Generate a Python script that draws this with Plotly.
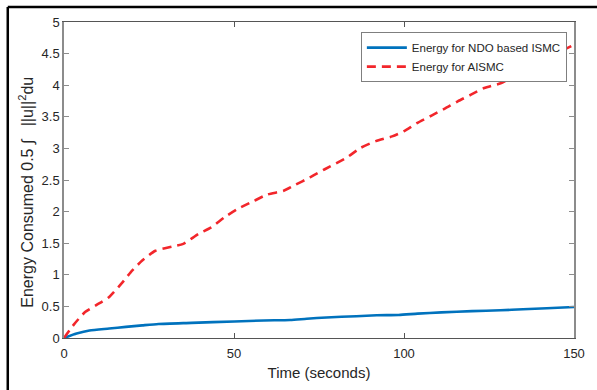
import plotly.graph_objects as go

t_ndo = [0, 3.7, 7.5, 13.3, 18.2, 23, 27.8, 37.5, 50.1, 58.8, 66.5, 71.4, 77.2, 86, 92, 98.4, 104, 111, 120, 128.4, 135, 142, 150]
e_ndo = [0, 0.07, 0.12, 0.15, 0.176, 0.2, 0.222, 0.24, 0.262, 0.278, 0.285, 0.305, 0.325, 0.345, 0.36, 0.365, 0.385, 0.405, 0.425, 0.438, 0.455, 0.47, 0.49]

t_ai = [0, 3.0, 6.2, 9.5, 13.3, 17.2, 19.6, 23, 26.9, 31.7, 35.1, 39.5, 43.3, 47.2, 51, 55.9, 59.8, 64.6, 67.5, 72.3, 76.7, 83, 87.3, 91.7, 96.5, 99.9, 103.8, 108.1, 112, 115.8, 119.7, 123.6, 128.4, 132.3, 137, 142, 147.7, 150]
e_ai = [0, 0.22, 0.41, 0.52, 0.65, 0.88, 1.04, 1.225, 1.38, 1.445, 1.49, 1.645, 1.75, 1.91, 2.04, 2.17, 2.27, 2.33, 2.41, 2.54, 2.67, 2.85, 3.01, 3.115, 3.19, 3.27, 3.40, 3.52, 3.63, 3.745, 3.85, 3.955, 4.03, 4.14, 4.27, 4.42, 4.58, 4.64]

x_ticks = [0, 50, 100, 150]
y_ticks = [0, 0.5, 1, 1.5, 2, 2.5, 3, 3.5, 4, 4.5, 5]
y_tick_text = ["0", "0.5", "1", "1.5", "2", "2.5", "3", "3.5", "4", "4.5", "5"]

x_title = "Time (seconds)"
y_title = "Energy Consumed 0.5 \u222b\u00a0\u00a0 ||u||<sup>2</sup>du"

FONT = "Arial, Liberation Sans, sans-serif"
TXT = "#262626"

fig = go.Figure()
fig.add_trace(go.Scatter(x=t_ndo, y=e_ndo, mode="lines", name="Energy for NDO based ISMC",
                         line=dict(color="#0072BD", width=2.6, shape="spline", smoothing=0.6)))
fig.add_trace(go.Scatter(x=t_ai, y=e_ai, mode="lines", name="Energy for AISMC",
                         line=dict(color="#f2262b", width=2.6, dash="9px,6px", shape="spline", smoothing=0.6)))

fig.update_layout(
    width=597, height=390,
    margin=dict(l=64, r=16, t=22, b=50.5),
    paper_bgcolor="white", plot_bgcolor="white",
    font=dict(family=FONT, size=13, color=TXT),
    showlegend=True,
    legend=dict(x=0.986, y=0.968, xanchor="right", yanchor="top",
                bordercolor="#7f7f7f", borderwidth=1, bgcolor="white",
                font=dict(size=11.5, color=TXT), tracegroupgap=0,
                itemwidth=40),
    xaxis=dict(range=[0, 150], tickvals=x_ticks, ticks="inside", ticklen=5,
               tickcolor="#555", showline=True, linecolor="#555", linewidth=1,
               mirror="ticks", showgrid=False, zeroline=False,
               tickfont=dict(size=13, color=TXT), ticklabelstandoff=3,
               title=dict(text=x_title, font=dict(size=15, color=TXT), standoff=7)),
    yaxis=dict(range=[0, 5], tickvals=y_ticks, ticktext=y_tick_text, ticks="inside", ticklen=5,
               tickcolor="#8c8c8c", showline=True, linecolor="#8c8c8c", linewidth=1.5,
               mirror="ticks", showgrid=False, zeroline=False,
               tickfont=dict(size=13, color=TXT)),
)

fig.add_annotation(text=y_title, xref="paper", yref="paper",
                   x=(26 - 64) / 517, y=(339.5 - 193) / 317.5,
                   xanchor="center", yanchor="middle", textangle=-90, showarrow=False,
                   font=dict(size=16, color=TXT))

# outer black frame (only left and top edges visible)
fig.add_shape(type="line", xref="paper", yref="paper",
              x0=(7 - 64) / 517, x1=(7 - 64) / 517, y0=-0.5, y1=1 + (22 - 7) / 317.5,
              line=dict(color="black", width=2.5))
fig.add_shape(type="line", xref="paper", yref="paper",
              x0=(7 - 64) / 517, x1=1.2, y0=1 + (22 - 7) / 317.5, y1=1 + (22 - 7) / 317.5,
              line=dict(color="black", width=2.5))

fig.write_html("out.html")
